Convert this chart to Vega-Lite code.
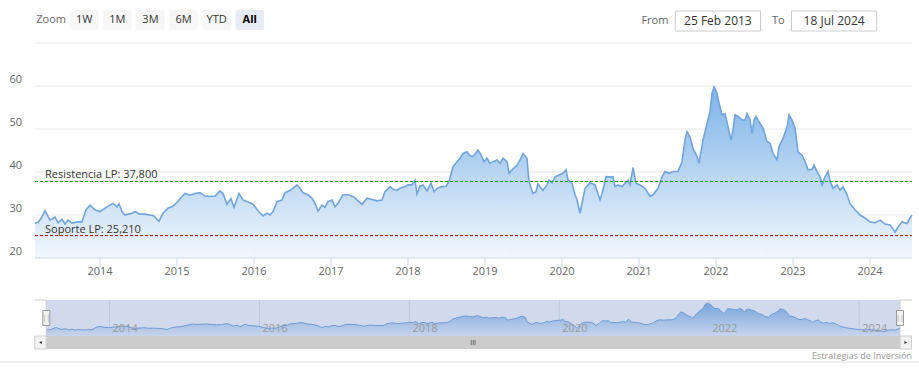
{
  "$schema": "https://vega.github.io/schema/vega-lite/v6.json",
  "width": 919,
  "height": 379,
  "autosize": {"type": "none"},
  "padding": 0,
  "background": "white",
  "config": {"view": {"stroke": null}, "font": "Open Sans"},
  "datasets": {
    "prices": [
      {"year": 2013.156, "close": 28.1}, {"year": 2013.199, "close": 28.3}, {"year": 2013.242, "close": 29.4}, {"year": 2013.286, "close": 31.0},
      {"year": 2013.351, "close": 28.8}, {"year": 2013.416, "close": 29.5}, {"year": 2013.455, "close": 28.2}, {"year": 2013.506, "close": 29.0},
      {"year": 2013.545, "close": 27.9}, {"year": 2013.584, "close": 28.8}, {"year": 2013.636, "close": 28.1}, {"year": 2013.701, "close": 28.4},
      {"year": 2013.766, "close": 28.4}, {"year": 2013.818, "close": 31.2}, {"year": 2013.870, "close": 32.3}, {"year": 2013.935, "close": 31.2},
      {"year": 2014.000, "close": 30.8}, {"year": 2014.065, "close": 31.6}, {"year": 2014.130, "close": 32.3}, {"year": 2014.169, "close": 32.7},
      {"year": 2014.221, "close": 31.9}, {"year": 2014.247, "close": 32.6}, {"year": 2014.286, "close": 30.8}, {"year": 2014.325, "close": 30.0},
      {"year": 2014.364, "close": 30.2}, {"year": 2014.416, "close": 30.4}, {"year": 2014.455, "close": 30.8}, {"year": 2014.519, "close": 30.2},
      {"year": 2014.584, "close": 30.2}, {"year": 2014.649, "close": 30.0}, {"year": 2014.701, "close": 29.8}, {"year": 2014.766, "close": 28.5},
      {"year": 2014.818, "close": 30.4}, {"year": 2014.883, "close": 31.6}, {"year": 2014.935, "close": 31.9}, {"year": 2015.000, "close": 32.9},
      {"year": 2015.065, "close": 34.3}, {"year": 2015.104, "close": 35.0}, {"year": 2015.169, "close": 34.6}, {"year": 2015.234, "close": 35.0},
      {"year": 2015.299, "close": 35.2}, {"year": 2015.364, "close": 34.4}, {"year": 2015.429, "close": 34.3}, {"year": 2015.494, "close": 34.4},
      {"year": 2015.558, "close": 35.6}, {"year": 2015.597, "close": 35.0}, {"year": 2015.649, "close": 32.5}, {"year": 2015.701, "close": 33.8},
      {"year": 2015.740, "close": 31.8}, {"year": 2015.805, "close": 35.0}, {"year": 2015.857, "close": 33.5}, {"year": 2015.922, "close": 33.0},
      {"year": 2015.987, "close": 32.5}, {"year": 2016.052, "close": 31.0}, {"year": 2016.117, "close": 29.8}, {"year": 2016.169, "close": 30.4},
      {"year": 2016.208, "close": 30.0}, {"year": 2016.247, "close": 30.8}, {"year": 2016.299, "close": 33.1}, {"year": 2016.364, "close": 33.5},
      {"year": 2016.403, "close": 35.2}, {"year": 2016.468, "close": 35.7}, {"year": 2016.506, "close": 36.2}, {"year": 2016.558, "close": 37.0},
      {"year": 2016.597, "close": 36.2}, {"year": 2016.636, "close": 35.2}, {"year": 2016.701, "close": 34.7}, {"year": 2016.753, "close": 33.9},
      {"year": 2016.792, "close": 32.7}, {"year": 2016.831, "close": 30.9}, {"year": 2016.883, "close": 32.3}, {"year": 2016.922, "close": 31.8},
      {"year": 2016.961, "close": 33.1}, {"year": 2017.013, "close": 33.5}, {"year": 2017.052, "close": 31.9}, {"year": 2017.091, "close": 32.7},
      {"year": 2017.156, "close": 34.7}, {"year": 2017.221, "close": 34.7}, {"year": 2017.286, "close": 34.3}, {"year": 2017.338, "close": 33.5},
      {"year": 2017.403, "close": 32.5}, {"year": 2017.468, "close": 33.9}, {"year": 2017.532, "close": 33.6}, {"year": 2017.597, "close": 33.3},
      {"year": 2017.662, "close": 33.5}, {"year": 2017.701, "close": 35.4}, {"year": 2017.766, "close": 36.6}, {"year": 2017.805, "close": 36.0},
      {"year": 2017.857, "close": 35.7}, {"year": 2017.896, "close": 36.2}, {"year": 2017.961, "close": 36.6}, {"year": 2018.000, "close": 37.0},
      {"year": 2018.052, "close": 37.0}, {"year": 2018.091, "close": 38.1}, {"year": 2018.117, "close": 34.9}, {"year": 2018.156, "close": 36.7},
      {"year": 2018.195, "close": 37.0}, {"year": 2018.247, "close": 35.6}, {"year": 2018.299, "close": 37.4}, {"year": 2018.338, "close": 35.4},
      {"year": 2018.377, "close": 36.2}, {"year": 2018.442, "close": 36.6}, {"year": 2018.494, "close": 36.7}, {"year": 2018.532, "close": 37.8},
      {"year": 2018.584, "close": 41.2}, {"year": 2018.636, "close": 42.4}, {"year": 2018.675, "close": 43.2}, {"year": 2018.714, "close": 44.3},
      {"year": 2018.766, "close": 44.7}, {"year": 2018.805, "close": 43.8}, {"year": 2018.844, "close": 43.6}, {"year": 2018.909, "close": 45.1},
      {"year": 2018.948, "close": 44.0}, {"year": 2018.987, "close": 42.4}, {"year": 2019.026, "close": 43.2}, {"year": 2019.065, "close": 42.0},
      {"year": 2019.104, "close": 42.4}, {"year": 2019.156, "close": 42.8}, {"year": 2019.195, "close": 42.0}, {"year": 2019.234, "close": 43.2},
      {"year": 2019.286, "close": 42.4}, {"year": 2019.312, "close": 39.7}, {"year": 2019.351, "close": 40.5}, {"year": 2019.416, "close": 41.6},
      {"year": 2019.455, "close": 42.8}, {"year": 2019.494, "close": 44.3}, {"year": 2019.545, "close": 43.2}, {"year": 2019.571, "close": 37.8},
      {"year": 2019.623, "close": 35.0}, {"year": 2019.662, "close": 35.4}, {"year": 2019.688, "close": 37.2}, {"year": 2019.753, "close": 35.7},
      {"year": 2019.805, "close": 37.0}, {"year": 2019.831, "close": 38.1}, {"year": 2019.870, "close": 37.5}, {"year": 2019.909, "close": 38.8},
      {"year": 2019.961, "close": 39.3}, {"year": 2020.013, "close": 39.7}, {"year": 2020.052, "close": 40.5}, {"year": 2020.078, "close": 38.1},
      {"year": 2020.130, "close": 37.4}, {"year": 2020.169, "close": 34.7}, {"year": 2020.195, "close": 33.5}, {"year": 2020.234, "close": 30.4},
      {"year": 2020.273, "close": 33.9}, {"year": 2020.299, "close": 36.2}, {"year": 2020.364, "close": 37.5}, {"year": 2020.429, "close": 37.0},
      {"year": 2020.494, "close": 33.5}, {"year": 2020.532, "close": 35.8}, {"year": 2020.571, "close": 38.9}, {"year": 2020.623, "close": 38.8},
      {"year": 2020.662, "close": 38.9}, {"year": 2020.688, "close": 36.6}, {"year": 2020.727, "close": 37.0}, {"year": 2020.779, "close": 36.6},
      {"year": 2020.818, "close": 37.4}, {"year": 2020.857, "close": 38.1}, {"year": 2020.883, "close": 37.0}, {"year": 2020.922, "close": 41.0},
      {"year": 2020.961, "close": 37.4}, {"year": 2021.013, "close": 37.0}, {"year": 2021.078, "close": 36.2}, {"year": 2021.143, "close": 34.3},
      {"year": 2021.182, "close": 34.7}, {"year": 2021.247, "close": 36.2}, {"year": 2021.299, "close": 38.9}, {"year": 2021.338, "close": 40.1},
      {"year": 2021.390, "close": 39.7}, {"year": 2021.442, "close": 40.1}, {"year": 2021.506, "close": 40.1}, {"year": 2021.558, "close": 42.4},
      {"year": 2021.597, "close": 47.4}, {"year": 2021.623, "close": 49.4}, {"year": 2021.662, "close": 48.2}, {"year": 2021.701, "close": 45.5},
      {"year": 2021.753, "close": 43.6}, {"year": 2021.779, "close": 42.0}, {"year": 2021.831, "close": 47.4}, {"year": 2021.883, "close": 51.3},
      {"year": 2021.922, "close": 54.0}, {"year": 2021.948, "close": 58.3}, {"year": 2021.974, "close": 59.8}, {"year": 2022.013, "close": 58.3},
      {"year": 2022.039, "close": 56.0}, {"year": 2022.078, "close": 53.3}, {"year": 2022.117, "close": 53.6}, {"year": 2022.156, "close": 50.5},
      {"year": 2022.195, "close": 47.4}, {"year": 2022.221, "close": 49.8}, {"year": 2022.247, "close": 53.3}, {"year": 2022.286, "close": 52.9},
      {"year": 2022.338, "close": 52.1}, {"year": 2022.377, "close": 52.1}, {"year": 2022.403, "close": 53.6}, {"year": 2022.442, "close": 52.1},
      {"year": 2022.468, "close": 49.0}, {"year": 2022.494, "close": 52.1}, {"year": 2022.519, "close": 52.9}, {"year": 2022.571, "close": 51.3},
      {"year": 2022.610, "close": 50.2}, {"year": 2022.662, "close": 47.1}, {"year": 2022.701, "close": 46.7}, {"year": 2022.740, "close": 44.3},
      {"year": 2022.792, "close": 42.8}, {"year": 2022.818, "close": 45.9}, {"year": 2022.870, "close": 47.8}, {"year": 2022.922, "close": 50.5},
      {"year": 2022.948, "close": 53.3}, {"year": 2022.987, "close": 52.1}, {"year": 2023.026, "close": 50.2}, {"year": 2023.065, "close": 44.7},
      {"year": 2023.117, "close": 43.9}, {"year": 2023.156, "close": 42.4}, {"year": 2023.195, "close": 40.5}, {"year": 2023.247, "close": 40.6},
      {"year": 2023.273, "close": 41.6}, {"year": 2023.312, "close": 40.1}, {"year": 2023.351, "close": 38.9}, {"year": 2023.377, "close": 37.0},
      {"year": 2023.416, "close": 38.9}, {"year": 2023.455, "close": 40.1}, {"year": 2023.481, "close": 37.8}, {"year": 2023.519, "close": 36.2},
      {"year": 2023.571, "close": 37.0}, {"year": 2023.610, "close": 35.8}, {"year": 2023.649, "close": 36.6}, {"year": 2023.701, "close": 34.7},
      {"year": 2023.740, "close": 32.7}, {"year": 2023.805, "close": 31.2}, {"year": 2023.870, "close": 30.0}, {"year": 2023.935, "close": 29.3},
      {"year": 2024.000, "close": 28.4}, {"year": 2024.065, "close": 28.2}, {"year": 2024.130, "close": 28.8}, {"year": 2024.195, "close": 27.9},
      {"year": 2024.260, "close": 27.7}, {"year": 2024.325, "close": 26.0}, {"year": 2024.364, "close": 27.2}, {"year": 2024.416, "close": 28.4},
      {"year": 2024.481, "close": 28.0}, {"year": 2024.519, "close": 29.3}, {"year": 2024.545, "close": 30.0}
    ],
    "buttons": [
      {"label": "Zoom", "kind": "caption"}, {"label": "1W", "kind": "button"}, {"label": "1M", "kind": "button"},
      {"label": "3M", "kind": "button"}, {"label": "6M", "kind": "button"}, {"label": "YTD", "kind": "button"},
      {"label": "All", "kind": "selected"}
    ],
    "dateRange": [
      {"slot": "start", "caption": "From", "value": "25 Feb 2013"},
      {"slot": "end", "caption": "To", "value": "18 Jul 2024"}
    ],
    "levels": [
      {"name": "Resistencia LP", "level": 37.8, "label": "Resistencia LP: 37,800"},
      {"name": "Soporte LP", "level": 25.21, "label": "Soporte LP: 25,210"}
    ],
    "grid": [{"v": 30}, {"v": 40}, {"v": 50}, {"v": 60}, {"v": 70}],
    "yLabels": [{"v": 20, "label": "20"}, {"v": 30, "label": "30"}, {"v": 40, "label": "40"}, {"v": 50, "label": "50"}, {"v": 60, "label": "60"}],
    "years": [
      {"year": 2014, "label": "2014"}, {"year": 2015, "label": "2015"}, {"year": 2016, "label": "2016"}, {"year": 2017, "label": "2017"},
      {"year": 2018, "label": "2018"}, {"year": 2019, "label": "2019"}, {"year": 2020, "label": "2020"}, {"year": 2021, "label": "2021"},
      {"year": 2022, "label": "2022"}, {"year": 2023, "label": "2023"}, {"year": 2024, "label": "2024"}
    ],
    "navYears": [
      {"year": 2014, "label": "2014"}, {"year": 2016, "label": "2016"}, {"year": 2018, "label": "2018"},
      {"year": 2020, "label": "2020"}, {"year": 2022, "label": "2022"}, {"year": 2024, "label": "2024"}
    ],
    "edges": [{"edge": "start", "year": 2013.156}, {"edge": "end", "year": 2024.545}],
    "one": [{"item": "frame"}]
  },
  "resolve": {
    "scale": {"x": "independent", "y": "independent", "color": "independent"},
    "axis": {"x": "independent", "y": "independent"}
  },
  "layer": [
    {
      "data": {"name": "buttons"},
      "layer": [
        {
          "transform": [{"filter": "datum.kind !== 'caption'"}],
          "mark": {"type": "rect", "cornerRadius": 2},
          "encoding": {
            "x": {"field": "label", "type": "nominal", "scale": {"type": "band", "domain": ["Zoom", "1W", "1M", "3M", "6M", "YTD", "All"], "range": [36.9, 264], "paddingInner": 0.139, "paddingOuter": 0}, "axis": null},
            "y": {"datum": "toolbar", "type": "nominal", "scale": {"type": "band", "domain": ["toolbar"], "range": [10, 30], "paddingInner": 0, "paddingOuter": 0}, "axis": null},
            "color": {"condition": {"test": "datum.kind === 'selected'", "value": "#e6ebf5"}, "value": "#f7f7f7"}
          }
        },
        {
          "transform": [{"filter": "datum.kind !== 'selected'"}],
          "mark": {"type": "text", "fontSize": 11, "baseline": "middle"},
          "encoding": {
            "x": {"field": "label", "type": "nominal", "scale": {"type": "band", "domain": ["Zoom", "1W", "1M", "3M", "6M", "YTD", "All"], "range": [36.9, 264], "paddingInner": 0.139, "paddingOuter": 0}, "axis": null},
            "y": {"datum": "toolbar", "type": "nominal", "scale": {"type": "band", "domain": ["toolbar"], "range": [10, 30], "paddingInner": 0, "paddingOuter": 0}, "axis": null},
            "text": {"field": "label"},
            "color": {"condition": {"test": "datum.kind === 'caption'", "value": "#666666"}, "value": "#333333"}
          }
        },
        {
          "transform": [{"filter": "datum.kind === 'selected'"}],
          "mark": {"type": "text", "fontSize": 11, "fontWeight": "bold", "baseline": "middle", "color": "#000000"},
          "encoding": {
            "x": {"field": "label", "type": "nominal", "scale": {"type": "band", "domain": ["Zoom", "1W", "1M", "3M", "6M", "YTD", "All"], "range": [36.9, 264], "paddingInner": 0.139, "paddingOuter": 0}, "axis": null},
            "y": {"datum": "toolbar", "type": "nominal", "scale": {"type": "band", "domain": ["toolbar"], "range": [10, 30], "paddingInner": 0, "paddingOuter": 0}, "axis": null},
            "text": {"field": "label"}
          }
        }
      ]
    },
    {
      "data": {"name": "dateRange"},
      "layer": [
        {
          "mark": {"type": "rect", "fill": "#ffffff", "stroke": "#cccccc", "strokeWidth": 1},
          "encoding": {
            "x": {"field": "slot", "type": "nominal", "scale": {"type": "band", "domain": ["start", "end"], "range": [675.3, 876.7], "paddingInner": 0.267, "paddingOuter": 0}, "axis": null},
            "y": {"datum": "toolbar", "type": "nominal", "scale": {"type": "band", "domain": ["toolbar"], "range": [11, 31], "paddingInner": 0, "paddingOuter": 0}, "axis": null}
          }
        },
        {
          "mark": {"type": "text", "fontSize": 12, "color": "#333333", "baseline": "middle"},
          "encoding": {
            "x": {"field": "slot", "type": "nominal", "scale": {"type": "band", "domain": ["start", "end"], "range": [675.3, 876.7], "paddingInner": 0.267, "paddingOuter": 0}, "axis": null},
            "y": {"datum": "toolbar", "type": "nominal", "scale": {"type": "band", "domain": ["toolbar"], "range": [11, 31], "paddingInner": 0, "paddingOuter": 0}, "axis": null},
            "text": {"field": "value"}
          }
        },
        {
          "mark": {"type": "text", "fontSize": 11, "color": "#666666", "baseline": "middle", "align": "right", "dx": -49.5},
          "encoding": {
            "x": {"field": "slot", "type": "nominal", "scale": {"type": "band", "domain": ["start", "end"], "range": [675.3, 876.7], "paddingInner": 0.267, "paddingOuter": 0}, "axis": null},
            "y": {"datum": "toolbar", "type": "nominal", "scale": {"type": "band", "domain": ["toolbar"], "range": [11, 31], "paddingInner": 0, "paddingOuter": 0}, "axis": null},
            "text": {"field": "caption"}
          }
        }
      ]
    },
    {
      "layer": [
        {
          "data": {"name": "grid"},
          "mark": {"type": "rule", "color": "#e6e6e6", "strokeWidth": 1},
          "encoding": {
            "y": {"field": "v", "type": "quantitative", "scale": {"domain": [20, 70], "range": [258, 43], "nice": false, "zero": false}, "axis": null},
            "x": {"datum": 2013.156, "type": "quantitative", "scale": {"domain": [2013.156, 2024.545], "range": [35, 912], "nice": false, "zero": false}, "axis": null},
            "x2": {"datum": 2024.545}
          }
        },
        {
          "data": {"name": "prices"},
          "mark": {
            "type": "area", "line": false,
            "color": {"gradient": "linear", "x1": 0, "y1": 0, "x2": 0, "y2": 1, "stops": [{"offset": 0, "color": "#7db3e8"}, {"offset": 1, "color": "#f2f7fd"}]}
          },
          "encoding": {
            "x": {"field": "year", "type": "quantitative", "axis": null},
            "y": {"field": "close", "type": "quantitative", "axis": null},
            "y2": {"datum": 20}
          }
        },
        {
          "data": {"name": "prices"},
          "mark": {"type": "line", "color": "#6fa4dd", "strokeWidth": 1.6},
          "encoding": {
            "x": {"field": "year", "type": "quantitative", "axis": null},
            "y": {"field": "close", "type": "quantitative", "axis": null}
          }
        },
        {
          "data": {"name": "one"},
          "mark": {"type": "rule", "color": "#ccd6eb", "strokeWidth": 1},
          "encoding": {
            "y": {"datum": 20, "type": "quantitative", "axis": null},
            "x": {"datum": 2013.156, "type": "quantitative", "axis": null},
            "x2": {"datum": 2024.545}
          }
        },
        {
          "data": {"name": "years"},
          "mark": {"type": "tick", "orient": "vertical", "size": 9, "thickness": 1, "yOffset": 4.5, "color": "#ccd6eb", "opacity": 1},
          "encoding": {
            "x": {"field": "year", "type": "quantitative", "axis": null},
            "y": {"datum": 20, "type": "quantitative", "axis": null}
          }
        },
        {
          "data": {"name": "years"},
          "mark": {"type": "text", "baseline": "middle", "align": "center", "dy": 14, "fontSize": 11, "color": "#666666"},
          "encoding": {
            "x": {"field": "year", "type": "quantitative", "axis": null},
            "y": {"datum": 20, "type": "quantitative", "axis": null},
            "text": {"field": "label"}
          }
        },
        {
          "data": {"name": "yLabels"},
          "mark": {"type": "text", "baseline": "middle", "align": "right", "dx": -13, "dy": -6, "fontSize": 11, "color": "#666666"},
          "encoding": {
            "x": {"datum": 2013.156, "type": "quantitative", "axis": null},
            "y": {"field": "v", "type": "quantitative", "axis": null},
            "text": {"field": "label"}
          }
        },
        {
          "data": {"name": "levels"},
          "transform": [{"filter": "datum.name === 'Resistencia LP'"}],
          "mark": {"type": "rule", "strokeWidth": 1, "strokeDash": [3, 2], "stroke": "#00a000", "color": "#00a000", "opacity": 1, "strokeOpacity": 1},
          "encoding": {
            "y": {"field": "level", "type": "quantitative", "axis": null},
            "x": {"datum": 2013.156, "type": "quantitative", "axis": null},
            "x2": {"datum": 2024.545}
          }
        },
        {
          "data": {"name": "levels"},
          "transform": [{"filter": "datum.name === 'Soporte LP'"}],
          "mark": {"type": "rule", "strokeWidth": 1, "strokeDash": [3, 2], "stroke": "#c00000", "color": "#c00000", "opacity": 1, "strokeOpacity": 1},
          "encoding": {
            "y": {"field": "level", "type": "quantitative", "axis": null},
            "x": {"datum": 2013.156, "type": "quantitative", "axis": null},
            "x2": {"datum": 2024.545}
          }
        },
        {
          "data": {"name": "levels"},
          "mark": {"type": "text", "align": "left", "baseline": "alphabetic", "dx": 10, "dy": -3, "fontSize": 11, "color": "#333333"},
          "encoding": {
            "y": {"field": "level", "type": "quantitative", "axis": null},
            "x": {"datum": 2013.156, "type": "quantitative", "axis": null},
            "text": {"field": "label"}
          }
        }
      ]
    },
    {
      "layer": [
        {
          "data": {"name": "navYears"},
          "mark": {"type": "rule", "color": "#e6e6e6", "strokeWidth": 1},
          "encoding": {
            "x": {"field": "year", "type": "quantitative", "scale": {"domain": [2013.156, 2024.545], "range": [46.3, 900], "nice": false, "zero": false}, "axis": null},
            "y": {"datum": 21, "type": "quantitative", "scale": {"domain": [21, 63.5], "range": [336, 300], "nice": false, "zero": false}, "axis": null},
            "y2": {"datum": 63.5}
          }
        },
        {
          "data": {"name": "prices"},
          "mark": {
            "type": "area", "line": false,
            "color": {"gradient": "linear", "x1": 0, "y1": 0, "x2": 0, "y2": 1, "stops": [{"offset": 0, "color": "#7db3e8"}, {"offset": 1, "color": "#f2f7fd"}]}
          },
          "encoding": {
            "x": {"field": "year", "type": "quantitative", "axis": null},
            "y": {"field": "close", "type": "quantitative", "axis": null},
            "y2": {"datum": 21}
          }
        },
        {
          "data": {"name": "prices"},
          "mark": {"type": "line", "color": "#6fa4dd", "strokeWidth": 1},
          "encoding": {
            "x": {"field": "year", "type": "quantitative", "axis": null},
            "y": {"field": "close", "type": "quantitative", "axis": null}
          }
        },
        {
          "data": {"name": "one"},
          "mark": {"type": "rect", "fill": "#6685c2", "opacity": 0.3},
          "encoding": {
            "x": {"datum": 2013.156, "type": "quantitative", "axis": null},
            "x2": {"datum": 2024.545},
            "y": {"datum": 21, "type": "quantitative", "axis": null},
            "y2": {"datum": 63.5}
          }
        },
        {
          "data": {"name": "one"},
          "mark": {"type": "rule", "color": "#cccccc", "strokeWidth": 1, "xOffset": -11.3},
          "encoding": {
            "x": {"datum": 2013.156, "type": "quantitative", "axis": null},
            "x2": {"datum": 2013.156},
            "y": {"datum": 63.5, "type": "quantitative", "axis": null}
          }
        },
        {
          "data": {"name": "one"},
          "mark": {"type": "rule", "color": "#cccccc", "strokeWidth": 1, "x2Offset": 12},
          "encoding": {
            "x": {"datum": 2024.545, "type": "quantitative", "axis": null},
            "x2": {"datum": 2024.545},
            "y": {"datum": 63.5, "type": "quantitative", "axis": null}
          }
        },
        {
          "data": {"name": "edges"},
          "mark": {"type": "rule", "color": "#cccccc", "strokeWidth": 1},
          "encoding": {
            "x": {"field": "year", "type": "quantitative", "axis": null},
            "y": {"datum": 21, "type": "quantitative", "axis": null},
            "y2": {"datum": 63.5}
          }
        },
        {
          "data": {"name": "navYears"},
          "mark": {"type": "text", "align": "left", "baseline": "alphabetic", "dx": 3, "dy": -4, "fontSize": 11, "color": "#999999"},
          "encoding": {
            "x": {"field": "year", "type": "quantitative", "axis": null},
            "y": {"datum": 21, "type": "quantitative", "axis": null},
            "text": {"field": "label"}
          }
        },
        {
          "data": {"name": "edges"},
          "mark": {"type": "rect", "width": 7, "height": 15, "fill": "#f2f2f2", "stroke": "#999999", "strokeWidth": 1},
          "encoding": {
            "x": {"field": "year", "type": "quantitative", "axis": null},
            "y": {"datum": 42.25, "type": "quantitative", "axis": null}
          }
        },
        {
          "data": {"name": "edges"},
          "mark": {"type": "text", "text": "||", "fontSize": 7, "color": "#999999", "baseline": "middle", "align": "center"},
          "encoding": {
            "x": {"field": "year", "type": "quantitative", "axis": null},
            "y": {"datum": 42.25, "type": "quantitative", "axis": null}
          }
        }
      ]
    },
    {
      "layer": [
        {
          "data": {"name": "one"},
          "mark": {"type": "rect", "fill": "#cccccc"},
          "encoding": {
            "x": {"datum": 2013.156, "type": "quantitative", "scale": {"domain": [2013.156, 2024.545], "range": [46.3, 900], "nice": false, "zero": false}, "axis": null},
            "x2": {"datum": 2024.545},
            "y": {"datum": "scroll", "type": "nominal", "scale": {"type": "band", "domain": ["scroll"], "range": [336, 349], "paddingInner": 0, "paddingOuter": 0}, "axis": null}
          }
        },
        {
          "data": {"name": "edges"},
          "transform": [{"filter": "datum.edge === 'start'"}],
          "mark": {"type": "rect", "width": 11.5, "xOffset": -5.8, "fill": "#f2f2f2", "stroke": "#cccccc", "strokeWidth": 1},
          "encoding": {
            "x": {"field": "year", "type": "quantitative", "axis": null},
            "y": {"datum": "scroll", "type": "nominal", "axis": null}
          }
        },
        {
          "data": {"name": "edges"},
          "transform": [{"filter": "datum.edge === 'end'"}],
          "mark": {"type": "rect", "width": 11.5, "xOffset": 5.8, "fill": "#f2f2f2", "stroke": "#cccccc", "strokeWidth": 1},
          "encoding": {
            "x": {"field": "year", "type": "quantitative", "axis": null},
            "y": {"datum": "scroll", "type": "nominal", "axis": null}
          }
        },
        {
          "data": {"name": "edges"},
          "transform": [{"filter": "datum.edge === 'start'"}],
          "mark": {"type": "point", "shape": "triangle-left", "filled": true, "size": 10, "xOffset": -5.8, "color": "#333333", "opacity": 1},
          "encoding": {
            "x": {"field": "year", "type": "quantitative", "axis": null},
            "y": {"datum": "scroll", "type": "nominal", "axis": null}
          }
        },
        {
          "data": {"name": "edges"},
          "transform": [{"filter": "datum.edge === 'end'"}],
          "mark": {"type": "point", "shape": "triangle-right", "filled": true, "size": 10, "xOffset": 5.8, "color": "#333333", "opacity": 1},
          "encoding": {
            "x": {"field": "year", "type": "quantitative", "axis": null},
            "y": {"datum": "scroll", "type": "nominal", "axis": null}
          }
        },
        {
          "data": {"name": "one"},
          "mark": {"type": "text", "text": "III", "fontSize": 7, "color": "#333333", "baseline": "middle"},
          "encoding": {
            "x": {"datum": 2018.8505, "type": "quantitative", "axis": null},
            "y": {"datum": "scroll", "type": "nominal", "axis": null}
          }
        }
      ]
    },
    {
      "layer": [
        {
          "data": {"name": "one"},
          "mark": {"type": "rule", "color": "#dddddd", "strokeWidth": 1},
          "encoding": {
            "y": {"datum": "line", "type": "nominal", "scale": {"type": "point", "domain": ["credits", "line"], "range": [355.5, 362], "padding": 0}, "axis": null}
          }
        },
        {
          "data": {"name": "one"},
          "mark": {"type": "text", "text": "Estrategias de Inversión", "fontSize": 9, "color": "#999999", "align": "right", "baseline": "middle"},
          "encoding": {
            "x": {"datum": 2024.545, "type": "quantitative", "scale": {"domain": [2013.156, 2024.545], "range": [35, 912], "nice": false, "zero": false}, "axis": null},
            "y": {"datum": "credits", "type": "nominal", "axis": null}
          }
        }
      ]
    }
  ]
}
